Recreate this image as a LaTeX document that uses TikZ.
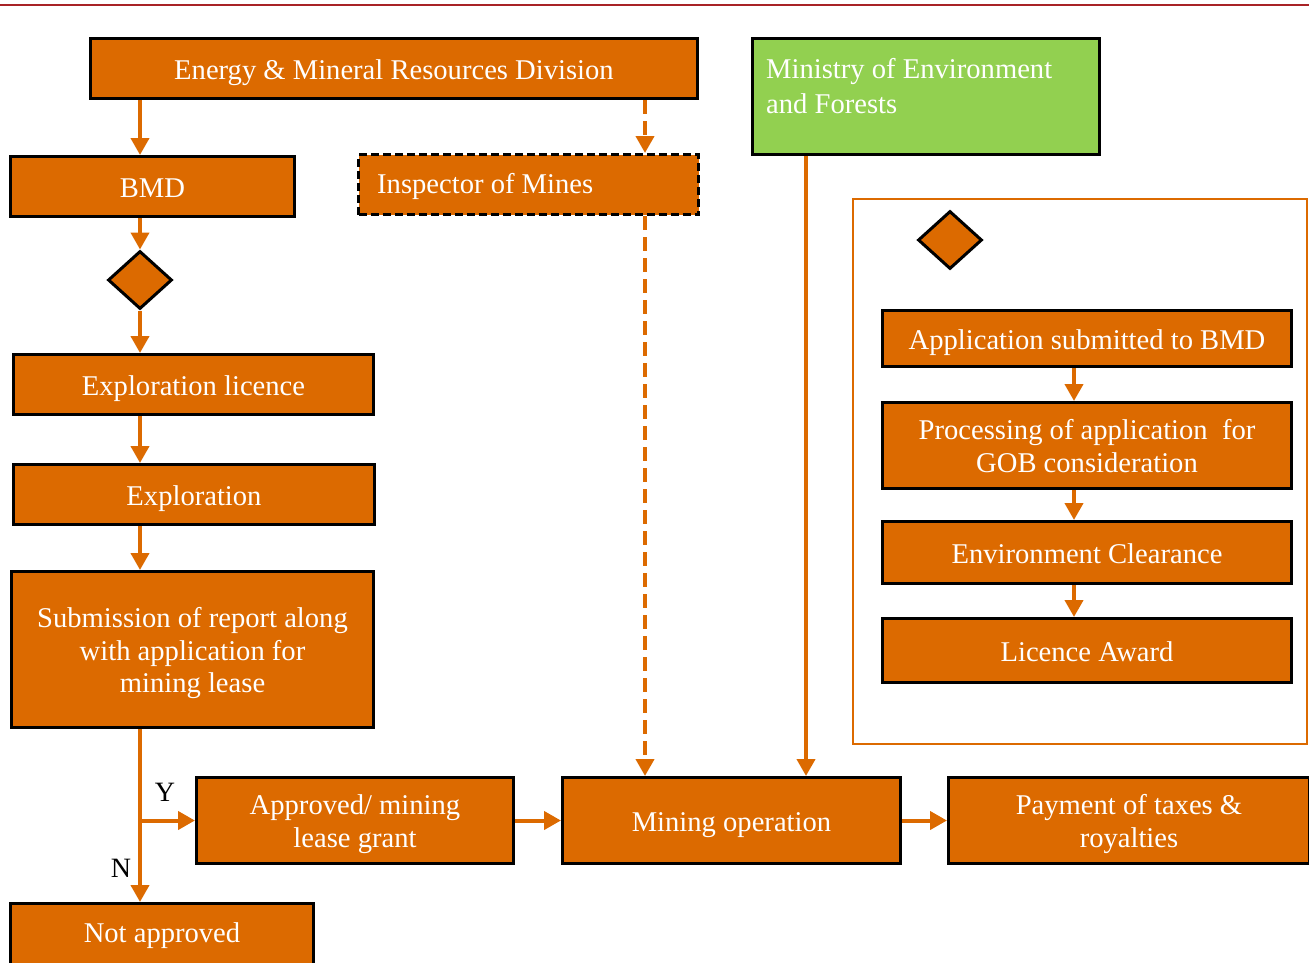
\documentclass[tikz,border=0pt]{standalone}
\usepackage{fontspec}
\setmainfont{Liberation Serif}
\usetikzlibrary{arrows.meta,shapes.geometric}
\definecolor{org}{RGB}{220,106,0}
\definecolor{grn}{RGB}{146,208,80}
\definecolor{topred}{RGB}{168,35,38}
\newcommand\bxtext[1]{\raisebox{-4pt}[\height][\depth]{\begin{tabular}{@{}c@{}}#1\end{tabular}}}
\tikzset{
  box/.style={draw=black, line width=3pt, fill=org, text=white, anchor=north west,
    inner sep=0pt, align=center, font=\fontsize{28.6}{32.5}\selectfont},
  arr/.style={draw=org, line width=4pt, -{Triangle[width=18pt,length=17pt]}},
  darr/.style={arr, dash pattern=on 14pt off 7pt},
  dia/.style={diamond, draw=black, line width=3pt, fill=org, inner sep=0pt,
    minimum width=64pt, minimum height=58pt},
  lbl/.style={font=\fontsize{28}{32}\selectfont, text=black}
}
\begin{document}
\begin{tikzpicture}[x=1pt,y=-1pt]
\useasboundingbox (0,0) rectangle (1309,962);
\draw[topred, line width=2.5pt] (0,5) -- (1309,5);
% columns
\coordinate (cL) at (140,0);
\coordinate (cI) at (645,0);
\coordinate (cM) at (806,0);
\coordinate (cR) at (1074,0);
% right frame
\draw[org, line width=2.5pt] (853,199) rectangle (1307,744);
% boxes
\node[box, minimum width=607pt, minimum height=60pt] (emrd) at (89,37) {\bxtext{Energy \& Mineral Resources Division}};
\node[box, fill=grn, minimum width=347pt, minimum height=116pt] (moef) at (751,37) {};
\node[anchor=north west, text=white, align=left, inner sep=0pt, font=\fontsize{28.6}{35}\selectfont] (moeft) at (766,58) {Ministry of Environment\\and Forests};
\node[box, minimum width=284pt, minimum height=60pt] (bmd) at (9,155) {\bxtext{BMD}};
\node[box, dash pattern=on 8pt off 4pt, minimum width=340pt, minimum height=60pt] (insp) at (357,153) {};
\node[anchor=west, text=white, inner sep=0pt, font=\fontsize{28.6}{32}\selectfont] (inspt) at (377,186) {Inspector of Mines};
\node[dia] (d1) at (140,280) {};
\node[box, minimum width=360pt, minimum height=60pt] (el) at (12,353) {\bxtext{Exploration licence}};
\node[box, minimum width=361pt, minimum height=60pt] (ex) at (12,463) {\bxtext{Exploration}};
\node[box, minimum width=362pt, minimum height=156pt] (sub) at (10,570) {\bxtext{Submission of report along\\with application for\\mining lease}};
\node[box, minimum width=317pt, minimum height=86pt] (ap) at (195,776) {\bxtext{Approved/ mining\\lease grant}};
\node[box, minimum width=338pt, minimum height=86pt] (mo) at (561,776) {\bxtext{Mining operation}};
\node[box, minimum width=361pt, minimum height=86pt] (pay) at (947,776) {\bxtext{Payment of taxes \&\\royalties}};
\node[box, minimum width=303pt, minimum height=64pt] (na) at (9,902) {Not approved};
% right column
\node[dia] (d2) at (950,240) {};
\node[box, minimum width=409pt, minimum height=56pt] (asb) at (881,309) {\bxtext{Application submitted to BMD}};
\node[box, minimum width=409pt, minimum height=86pt] (proc) at (881,401) {\bxtext{Processing of application\ \ for\\GOB consideration}};
\node[box, minimum width=409pt, minimum height=62pt] (envc) at (881,520) {\bxtext{Environment Clearance}};
\node[box, minimum width=409pt, minimum height=64pt] (lic) at (881,617) {\bxtext{Licence Award}};
% labels
\node[lbl] (ylbl) at (165,792) {Y};
\node[lbl] (nlbl) at (121,868) {N};
% connectors
\draw[arr] (emrd.south -| cL) -- (bmd.north -| cL);
\draw[darr] (emrd.south -| cI) -- (insp.north -| cI);
\draw[arr] (bmd.south -| cL) -- (d1.north);
\draw[arr] (d1.south) -- (el.north -| cL);
\draw[arr] (el.south -| cL) -- (ex.north -| cL);
\draw[arr] (ex.south -| cL) -- (sub.north -| cL);
\draw[arr] (sub.south -| cL) -- (na.north -| cL);
\draw[arr] (ap.west -| cL) -- (ap.west);
\draw[arr] (ap.east) -- (mo.west);
\draw[arr] (mo.east) -- (pay.west);
\draw[darr] (insp.south -| cI) -- (mo.north -| cI);
\draw[arr] (moef.south -| cM) -- (mo.north -| cM);
\draw[arr] (asb.south -| cR) -- (proc.north -| cR);
\draw[arr] (proc.south -| cR) -- (envc.north -| cR);
\draw[arr] (envc.south -| cR) -- (lic.north -| cR);
\end{tikzpicture}
\end{document}
